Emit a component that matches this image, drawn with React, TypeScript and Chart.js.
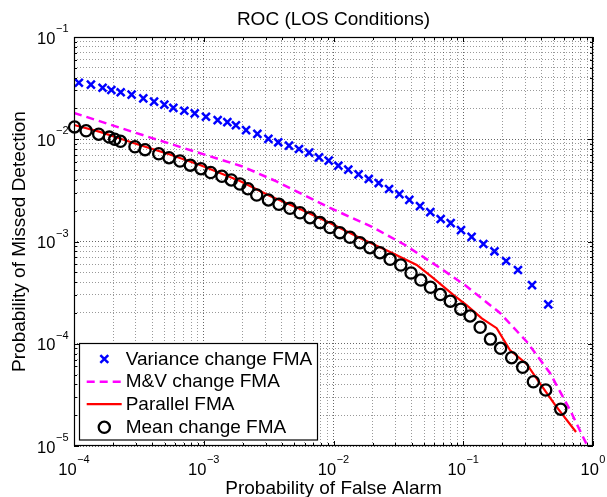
import { useEffect, useRef } from "react";
import { Chart, registerables } from "chart.js";
Chart.register(...registerables);

const FONT = '"Liberation Sans", Arial, Helvetica, sans-serif';

const chartTitle = "ROC (LOS Conditions)";
const xAxisTitle = "Probability of False Alarm";
const yAxisTitle = "Probability of Missed Detection";

const xTickExponents = [-4, -3, -2, -1, 0];
const yTickExponents = [-5, -4, -3, -2, -1];
const minorMultipliers = [1, 2, 3, 4, 5, 6, 7, 8, 9];

const seriesLabels = ["Variance change FMA", "M&V change FMA", "Parallel FMA", "Mean change FMA"];

const varianceFA = [1.09e-4, 1.35e-4, 1.66e-4, 1.94e-4, 2.29e-4, 2.78e-4, 3.42e-4, 4.14e-4, 4.97e-4, 5.83e-4, 7.08e-4, 8.52e-4, 1.04e-3, 1.28e-3, 1.52e-3, 1.77e-3, 2.12e-3, 2.59e-3, 3.15e-3, 3.75e-3, 4.54e-3, 5.42e-3, 6.48e-3, 7.73e-3, 9.18e-3, 1.09e-2, 1.30e-2, 1.56e-2, 1.87e-2, 2.23e-2, 2.68e-2, 3.22e-2, 3.84e-2, 4.64e-2, 5.57e-2, 6.70e-2, 8.00e-2, 9.61e-2, 0.116, 0.143, 0.174, 0.214, 0.264, 0.339, 0.452];
const varianceMD = [3.57e-2, 3.42e-2, 3.19e-2, 3.03e-2, 2.88e-2, 2.73e-2, 2.51e-2, 2.33e-2, 2.18e-2, 2.03e-2, 1.90e-2, 1.79e-2, 1.66e-2, 1.54e-2, 1.47e-2, 1.37e-2, 1.23e-2, 1.13e-2, 1.01e-2, 9.34e-3, 8.65e-3, 8.03e-3, 7.39e-3, 6.66e-3, 6.17e-3, 5.51e-3, 5.04e-3, 4.54e-3, 4.09e-3, 3.73e-3, 3.26e-3, 2.91e-3, 2.55e-3, 2.22e-3, 1.94e-3, 1.66e-3, 1.51e-3, 1.29e-3, 1.11e-3, 9.45e-4, 8.02e-4, 6.45e-4, 5.26e-4, 3.75e-4, 2.43e-4];

const mvFA = [1e-4, 4.06e-4, 2.01e-3, 3.67e-3, 9.40e-3, 1.98e-2, 3.56e-2, 6.62e-2, 0.103, 0.192, 0.310, 0.466, 0.665, 0.899];
const mvMD = [1.81e-2, 1.02e-2, 5.39e-3, 3.85e-3, 2.13e-3, 1.39e-3, 9.24e-4, 5.51e-4, 3.75e-4, 2.00e-4, 1.04e-4, 5.17e-5, 2.25e-5, 1.02e-5];

const parallelFA = [1e-4, 1.59e-4, 2.95e-4, 5.49e-4, 9.36e-4, 1.90e-3, 3.24e-3, 5.52e-3, 9.40e-3, 1.60e-2, 2.73e-2, 4.38e-2, 5.85e-2, 8.34e-2, 0.106, 0.139, 0.181, 0.229, 0.308, 0.390, 0.510, 0.740];
const parallelMD = [1.38e-2, 1.18e-2, 9.09e-3, 7.09e-3, 5.60e-3, 3.91e-3, 2.79e-3, 2.08e-3, 1.52e-3, 1.08e-3, 7.90e-4, 5.89e-4, 4.40e-4, 3.02e-4, 2.39e-4, 1.77e-4, 1.42e-4, 8.69e-5, 6.34e-5, 4.10e-5, 2.52e-5, 1.37e-5];

const meanFA = [1.01e-4, 1.24e-4, 1.55e-4, 1.87e-4, 2.06e-4, 2.28e-4, 2.95e-4, 3.53e-4, 4.50e-4, 5.40e-4, 6.56e-4, 7.88e-4, 9.52e-4, 1.13e-3, 1.38e-3, 1.63e-3, 1.90e-3, 2.19e-3, 2.56e-3, 3.15e-3, 3.80e-3, 4.62e-3, 5.52e-3, 6.59e-3, 7.87e-3, 9.40e-3, 1.12e-2, 1.34e-2, 1.60e-2, 1.91e-2, 2.28e-2, 2.73e-2, 3.30e-2, 3.96e-2, 4.71e-2, 5.59e-2, 6.66e-2, 7.95e-2, 9.57e-2, 0.113, 0.135, 0.162, 0.194, 0.236, 0.287, 0.347, 0.432, 0.564];
const meanMD = [1.32e-2, 1.21e-2, 1.12e-2, 1.05e-2, 9.99e-3, 9.55e-3, 8.45e-3, 7.91e-3, 7.21e-3, 6.60e-3, 6.13e-3, 5.58e-3, 5.15e-3, 4.73e-3, 4.34e-3, 4.00e-3, 3.65e-3, 3.28e-3, 2.85e-3, 2.55e-3, 2.31e-3, 2.11e-3, 1.91e-3, 1.71e-3, 1.53e-3, 1.37e-3, 1.22e-3, 1.10e-3, 9.73e-4, 8.70e-4, 7.77e-4, 6.70e-4, 5.89e-4, 4.92e-4, 4.20e-4, 3.57e-4, 3.03e-4, 2.61e-4, 2.18e-4, 1.87e-4, 1.45e-4, 1.11e-4, 9.03e-5, 7.30e-5, 5.88e-5, 4.25e-5, 3.53e-5, 2.29e-5];

function toPoints(xs: number[], ys: number[]) {
  return xs.map((x, i) => ({ x, y: ys[i] }));
}

function logTicks(exps: number[]) {
  const out: { value: number; major: boolean }[] = [];
  for (let i = 0; i < exps.length - 1; i++) {
    for (const m of minorMultipliers) {
      out.push({ value: m * Math.pow(10, exps[i]), major: m === 1 });
    }
  }
  out.push({ value: Math.pow(10, exps[exps.length - 1]), major: true });
  return out;
}

function drawPow(ctx: CanvasRenderingContext2D, exp: number, x: number, baseY: number, align: "center" | "right") {
  const baseFont = `16.5px ${FONT}`;
  const expFont = `11px ${FONT}`;
  const expText = exp === 0 ? "0" : "\u2212" + Math.abs(exp);
  ctx.font = baseFont;
  const wb = ctx.measureText("10").width;
  ctx.font = expFont;
  const we = ctx.measureText(expText).width;
  const total = wb + we + 0.5;
  const start = align === "center" ? x - total / 2 : x - total;
  ctx.textAlign = "left";
  ctx.textBaseline = "alphabetic";
  ctx.font = baseFont;
  ctx.fillText("10", start, baseY);
  ctx.font = expFont;
  ctx.fillText(expText, start + wb + 0.5, baseY - 11.5);
}

const decorPlugin = {
  id: "matlabDecor",
  afterDraw(chart: any) {
    const { ctx, chartArea: a, scales } = chart;
    const xs = scales.x;
    const ys = scales.y;
    ctx.save();
    ctx.strokeStyle = "#000";
    ctx.lineWidth = 1;
    ctx.beginPath();
    for (const t of xs.ticks) {
      const p = Math.round(xs.getPixelForValue(t.value)) + 0.5;
      const len = t.major ? 5 : 3;
      ctx.moveTo(p, a.bottom);
      ctx.lineTo(p, a.bottom - len);
      ctx.moveTo(p, a.top);
      ctx.lineTo(p, a.top + len);
    }
    for (const t of ys.ticks) {
      const p = Math.round(ys.getPixelForValue(t.value)) + 0.5;
      const len = t.major ? 5 : 3;
      ctx.moveTo(a.left, p);
      ctx.lineTo(a.left + len, p);
      ctx.moveTo(a.right, p);
      ctx.lineTo(a.right - len, p);
    }
    ctx.stroke();
    ctx.lineWidth = 1.2;
    ctx.strokeRect(a.left + 0.5, a.top + 0.5, a.right - a.left - 1, a.bottom - a.top - 1);

    ctx.fillStyle = "#000";
    for (const e of xTickExponents) {
      const px = xs.getPixelForValue(Math.pow(10, e));
      drawPow(ctx, e, px, a.bottom + 28.5, "center");
    }
    for (const e of yTickExponents) {
      const py = ys.getPixelForValue(Math.pow(10, e));
      drawPow(ctx, e, a.left - 5.5, py + 6.5, "right");
    }

    ctx.font = `19px ${FONT}`;
    ctx.textAlign = "center";
    ctx.textBaseline = "alphabetic";
    const cx = (a.left + a.right) / 2;
    ctx.fillText(chartTitle, cx, 24.5);
    ctx.fillText(xAxisTitle, cx, 493.5);
    ctx.save();
    ctx.translate(24.5, (a.top + a.bottom) / 2);
    ctx.rotate(-Math.PI / 2);
    ctx.fillText(yAxisTitle, 0, 0);
    ctx.restore();

    const lx = 79.5, ly = 343.5, lw = 238, lh = 96.5;
    ctx.fillStyle = "#fff";
    ctx.fillRect(lx, ly, lw, lh);
    ctx.strokeStyle = "#000";
    ctx.lineWidth = 1.2;
    ctx.strokeRect(lx, ly, lw, lh);
    const rows = [359, 381.7, 404.2, 427.3];
    const ds = chart.data.datasets;
    const sx0 = 86.7, sx1 = 121.7, mx = 104.3;
    ds.forEach((d: any, i: number) => {
      const y = rows[i];
      ctx.save();
      if (d.showLine) {
        ctx.strokeStyle = d.borderColor;
        ctx.lineWidth = d.borderWidth;
        ctx.setLineDash(d.borderDash || []);
        ctx.beginPath();
        ctx.moveTo(sx0, y);
        ctx.lineTo(sx1, y);
        ctx.stroke();
      } else if (d.pointStyle === "crossRot") {
        const o = d.pointRadius * Math.SQRT1_2;
        ctx.strokeStyle = d.pointBorderColor;
        ctx.lineWidth = d.pointBorderWidth;
        ctx.beginPath();
        ctx.moveTo(mx - o, y - o);
        ctx.lineTo(mx + o, y + o);
        ctx.moveTo(mx - o, y + o);
        ctx.lineTo(mx + o, y - o);
        ctx.stroke();
      } else {
        ctx.strokeStyle = d.pointBorderColor;
        ctx.lineWidth = d.pointBorderWidth;
        ctx.beginPath();
        ctx.arc(mx, y, d.pointRadius, 0, Math.PI * 2);
        ctx.stroke();
      }
      ctx.restore();
      ctx.fillStyle = "#000";
      ctx.font = `19px ${FONT}`;
      ctx.textAlign = "left";
      ctx.textBaseline = "middle";
      ctx.fillText(d.label, 125.7, y + 0.5);
    });
    ctx.restore();
  },
};

export default function App() {
  const ref = useRef<HTMLCanvasElement | null>(null);
  useEffect(() => {
    if (!ref.current) return;
    const gridColor = (c: any) => (c.tick && c.tick.major ? "rgba(0,0,0,0.6)" : "rgba(0,0,0,0.4)");
    const chart = new Chart(ref.current, {
      type: "scatter",
      data: {
        datasets: [
          {
            label: seriesLabels[0],
            data: toPoints(varianceFA, varianceMD),
            showLine: false,
            pointStyle: "crossRot",
            pointRadius: 5.6,
            pointBorderWidth: 2.5,
            pointBorderColor: "#0000ff",
            pointBackgroundColor: "#0000ff",
            borderColor: "#0000ff",
            order: 1,
            clip: false,
          } as any,
          {
            label: seriesLabels[1],
            data: toPoints(mvFA, mvMD),
            showLine: true,
            borderColor: "#ff00ff",
            borderWidth: 2.5,
            borderDash: [8, 5],
            pointRadius: 0,
            order: 4,
          },
          {
            label: seriesLabels[2],
            data: toPoints(parallelFA, parallelMD),
            showLine: true,
            borderColor: "#ff0000",
            borderWidth: 2.2,
            pointRadius: 0,
            order: 3,
          },
          {
            label: seriesLabels[3],
            data: toPoints(meanFA, meanMD),
            showLine: false,
            pointStyle: "circle",
            pointRadius: 5.6,
            pointBorderWidth: 2.3,
            pointBorderColor: "#000000",
            pointBackgroundColor: "rgba(0,0,0,0)",
            borderColor: "#000000",
            order: 2,
            clip: false,
          } as any,
        ],
      },
      options: {
        animation: false,
        responsive: false,
        events: [],
        layout: { padding: { left: 74, right: 14, top: 37, bottom: 51 } },
        plugins: {
          legend: { display: false },
          title: { display: false },
          tooltip: { enabled: false },
        },
        scales: {
          x: {
            type: "logarithmic",
            min: 1e-4,
            max: 1,
            afterBuildTicks: (s: any) => {
              s.ticks = logTicks(xTickExponents);
            },
            ticks: { display: false },
            grid: { drawTicks: false, color: gridColor, lineWidth: 1 },
            border: { display: false, dash: [1, 2] },
          },
          y: {
            type: "logarithmic",
            min: 1e-5,
            max: 1e-1,
            afterBuildTicks: (s: any) => {
              s.ticks = logTicks(yTickExponents);
            },
            ticks: { display: false },
            grid: { drawTicks: false, color: gridColor, lineWidth: 1 },
            border: { display: false, dash: [1, 2] },
          },
        },
      },
      plugins: [decorPlugin],
    });
    return () => chart.destroy();
  }, []);
  return (
    <div style={{ position: "fixed", left: 0, top: 0, width: 607, height: 497, background: "#fff" }}>
      <canvas ref={ref} width={607} height={497} style={{ display: "block" }} />
    </div>
  );
}
